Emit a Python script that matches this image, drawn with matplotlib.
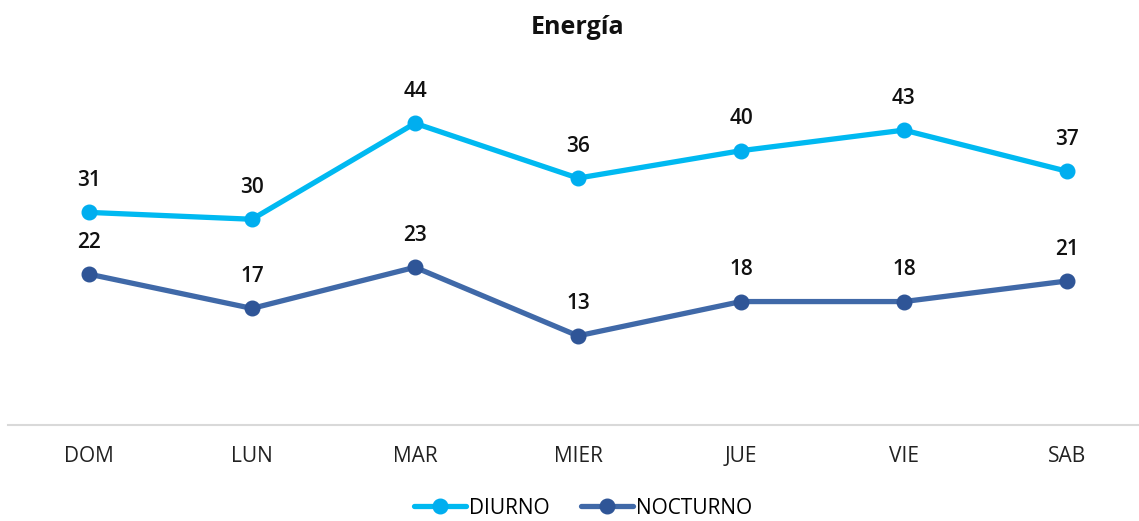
import matplotlib
matplotlib.use("Agg")
import matplotlib.pyplot as plt

days = ["DOM", "LUN", "MAR", "MIER", "JUE", "VIE", "SAB"]
diurno = [31, 30, 44, 36, 40, 43, 37]
nocturno = [22, 17, 23, 13, 18, 18, 21]

plt.rcParams["font.family"] = ["Open Sans", "DejaVu Sans"]

fig = plt.figure(figsize=(11.39, 5.21), dpi=100)
# category slots are 163 px wide; the last one runs a little past the right edge
ax = fig.add_axes([7.5 / 1139, 96 / 521, 1141 / 1139, 342.9 / 521])

x = list(range(len(days)))

ax.plot(x, diurno, color="#00B9F1", lw=3.8, marker="o", ms=10.5,
        mfc="#00AEEF", mec="#00AEEF", label="DIURNO", solid_capstyle="round")
ax.plot(x, nocturno, color="#4069A8", lw=3.8, marker="o", ms=10.5,
        mfc="#2F5597", mec="#2F5597", label="NOCTURNO", solid_capstyle="round")

for series in (diurno, nocturno):
    for xi, v in zip(x, series):
        ax.annotate(str(v), (xi, v), xytext=(0, 23), textcoords="offset points",
                    ha="center", va="center", fontsize=15, fontweight="semibold",
                    color="#111111")

ax.set_xlim(-0.5, len(days) - 0.5)
ax.set_ylim(0, 50)
ax.set_xticks(x)
ax.set_xticklabels(days, fontsize=15, color="#222222")
ax.tick_params(axis="x", length=0, pad=15)
ax.set_yticks([])
for s in ["top", "right", "left"]:
    ax.spines[s].set_visible(False)
ax.spines["bottom"].set_color("#D9D9D9")
ax.spines["bottom"].set_linewidth(1.5)

fig.text(578 / 1139, 1 - 28 / 521, "Energía", ha="center", va="center",
         fontsize=18, fontweight="bold", color="#111111")

fig.legend(loc="center", bbox_to_anchor=(583 / 1139, 1 - 508 / 521), ncol=2,
           frameon=False, fontsize=15, handlelength=2.5, handletextpad=0.15,
           columnspacing=1.5)

fig.savefig("out.png", dpi=100)
